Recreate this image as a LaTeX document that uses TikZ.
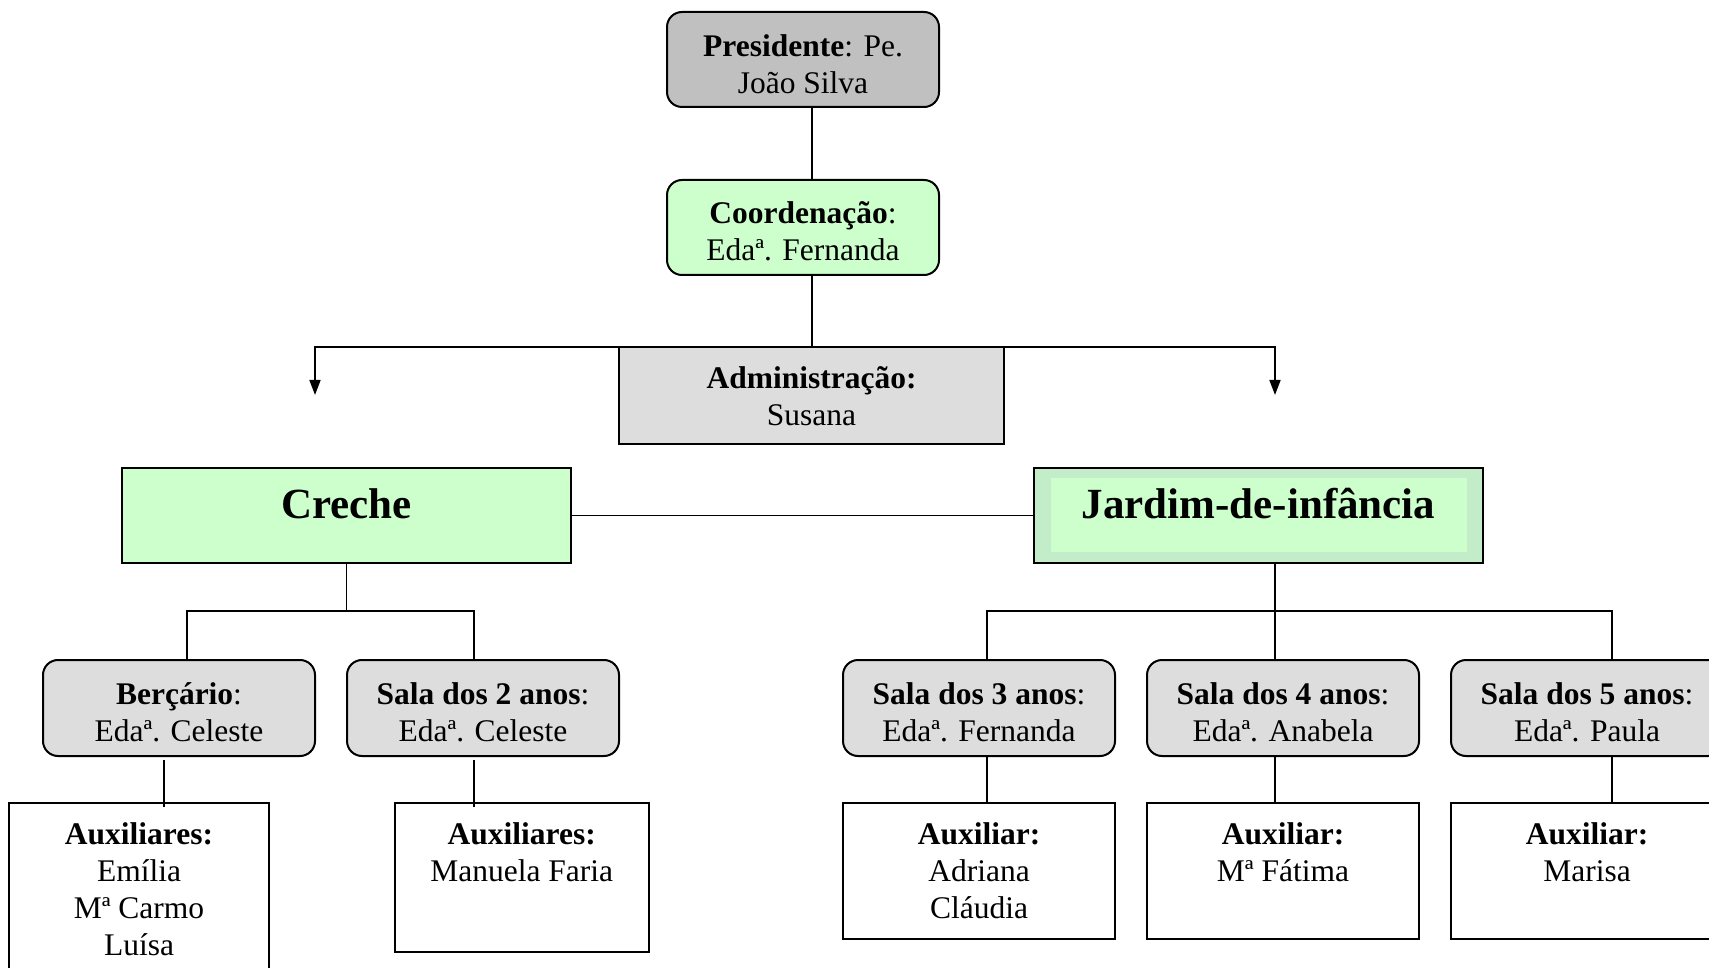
\documentclass[tikz,border=0pt]{standalone}
\usepackage{fontspec}
\setmainfont{Liberation Serif}
\usetikzlibrary{arrows.meta}
\definecolor{mint}{HTML}{CCFFCC}
\definecolor{mintdark}{RGB}{195,237,201}
\definecolor{greybox}{HTML}{C0C0C0}
\definecolor{lightgrey}{HTML}{DDDDDD}
\tikzset{
  txt/.style={font=\fontsize{31.5}{37}\selectfont, align=center, inner sep=0pt},
  rbox/.style={draw, line width=2pt, rounded corners=15pt, minimum width=272pt,
    minimum height=95pt, inner sep=0pt},
  sbox/.style={draw, line width=2pt, inner sep=0pt, align=center, font=\fontsize{31.5}{37}\selectfont},
  big/.style={font=\bfseries\fontsize{43}{50}\selectfont, anchor=base, inner sep=0pt},
  conn/.style={line width=1.6pt},
  arr/.style={conn, -{Triangle[length=15pt,width=11pt]}},
}
\begin{document}
\begin{tikzpicture}[x=1pt,y=-1pt]
\clip (0,0) rectangle (1709,968);
\fill[white] (0,0) rectangle (1709,968);

% top
\node[rbox, fill=greybox] (pres) at (803,59.5) {};
\node[txt] (prest) at ([yshift=-4.5pt]pres.center) {\textbf{Presidente}: Pe.\\João Silva};
\node[rbox, fill=mint] (coord) at (803,227.5) {};
\node[txt] (coordt) at ([yshift=-4pt]coord.center) {\textbf{Coordenação}:\\Edaª. Fernanda};

\coordinate (mid) at (812,347);
\coordinate (hl) at (315,347);
\coordinate (hr) at (1275,347);
\coordinate (al) at (315,395);
\coordinate (ar) at (1275,395);

\draw[conn] (pres.south -| mid) -- (coord.north -| mid);
\draw[conn] (coord.south -| mid) -- (mid);
\draw[arr] (mid) -- (hl) -- (al);
\draw[arr] (mid) -- (hr) -- (ar);

\node[sbox, fill=lightgrey, minimum width=385pt, minimum height=97pt] (admin) at (811.5,395.5) {};
\node[txt] (admint) at ([yshift=-1pt]admin.center) {\textbf{Administração:}\\Susana};

% level 2
\node[sbox, fill=mint, minimum width=449pt, minimum height=95pt] (creche) at (346.5,515.5) {};
\node[big] (crechet) at (346.5,518) {Creche};

\node[sbox, fill=mintdark, minimum width=449pt, minimum height=95pt] (jardim) at (1258.5,515.5) {};
\fill[mint] (1051,478) rectangle (1467,552);
\node[big] (jardimt) at (1258.5,518) {Jardim-de-infância};

\draw[conn] (creche.east) -- (jardim.west);

% level 3
\node[rbox, fill=lightgrey, minimum height=96pt] (berc) at (179,708) {};
\node[rbox, fill=lightgrey, minimum height=96pt] (s2) at (483,708) {};
\node[rbox, fill=lightgrey, minimum height=96pt] (s3) at (979,708) {};
\node[rbox, fill=lightgrey, minimum height=96pt] (s4) at (1283,708) {};
\node[rbox, fill=lightgrey, minimum height=96pt] (s5) at (1587,708) {};
\node[txt] (berct) at ([yshift=-4.5pt]berc.center) {\textbf{Berçário}:\\Edaª. Celeste};
\node[txt] (s2t) at ([yshift=-4.5pt]s2.center) {\textbf{Sala dos 2 anos}:\\Edaª. Celeste};
\node[txt] (s3t) at ([yshift=-4.5pt]s3.center) {\textbf{Sala dos 3 anos}:\\Edaª. Fernanda};
\node[txt] (s4t) at ([yshift=-4.5pt]s4.center) {\textbf{Sala dos 4 anos}:\\Edaª. Anabela};
\node[txt] (s5t) at ([yshift=-4.5pt]s5.center) {\textbf{Sala dos 5 anos}:\\Edaª. Paula};

\coordinate (cb) at (346.5,611);
\coordinate (cbl) at (187,611);
\coordinate (cbr) at (474,611);
\draw[conn] (creche.south) -- (cb);
\draw[conn] (berc.north -| cbl) -- (cbl) -- (cbr) -- (s2.north -| cbr);

\coordinate (jbm) at (1275,611);
\coordinate (jbl) at (987,611);
\coordinate (jbr) at (1612,611);
\draw[conn] (jardim.south -| jbm) -- (s4.north -| jbm);
\draw[conn] (s3.north -| jbl) -- (jbl) -- (jbr) -- (s5.north -| jbr);

% level 4
\node[sbox, minimum width=260pt, minimum height=200pt] (a1) at (139,903) {};
\node[sbox, minimum width=254.5pt, minimum height=149pt] (a2) at (521.75,877.5) {};
\node[sbox, minimum width=272pt, minimum height=136pt] (a3) at (979,871) {};
\node[sbox, minimum width=272pt, minimum height=136pt] (a4) at (1283,871) {};
\node[sbox, minimum width=272pt, minimum height=136pt] (a5) at (1587,871) {};

\node[txt, anchor=north] (a1t) at ([yshift=-20pt]a1.north) {\textbf{Auxiliares:}\\Emília\\Mª Carmo\\Luísa};
\node[txt, anchor=north] (a2t) at ([yshift=-20pt]a2.north) {\textbf{Auxiliares:}\\Manuela Faria};
\node[txt, anchor=north] (a3t) at ([yshift=-20pt]a3.north) {\textbf{Auxiliar:}\\Adriana\\Cláudia};
\node[txt, anchor=north] (a4t) at ([yshift=-20pt]a4.north) {\textbf{Auxiliar:}\\Mª Fátima};
\node[txt, anchor=north] (a5t) at ([yshift=-20pt]a5.north) {\textbf{Auxiliar:}\\Marisa};

\coordinate (x1) at (164,780);
\coordinate (x2) at (474,780);
\coordinate (x3) at (987,780);
\coordinate (x4) at (1275,780);
\coordinate (x5) at (1612,780);
\draw[conn] ([yshift=-3pt]berc.south -| x1) -- ([yshift=-5pt]a1.north -| x1);
\draw[conn] ([yshift=-3pt]s2.south -| x2) -- ([yshift=-5pt]a2.north -| x2);
\draw[conn] (s3.south -| x3) -- (a3.north -| x3);
\draw[conn] (s4.south -| x4) -- (a4.north -| x4);
\draw[conn] (s5.south -| x5) -- (a5.north -| x5);
\end{tikzpicture}
\end{document}
